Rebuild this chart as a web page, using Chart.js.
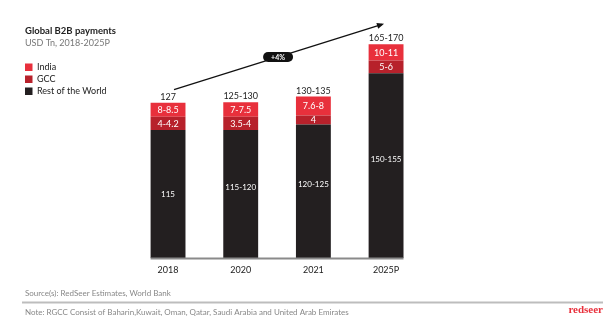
<!DOCTYPE html>
<html>
<head>
<meta charset="utf-8">
<script src="https://cdn.jsdelivr.net/npm/chart.js@4.4.1/dist/chart.umd.min.js"></script>
<style>
html,body{margin:0;padding:0;background:#fff;}
#wrap{width:611px;height:326px;position:relative;}
</style>
</head>
<body>
<div id="wrap"><canvas id="c" width="611" height="326"></canvas></div>
<script>
// ---- data ----
const categories = ['2018', '2020', '2021', '2025P'];
// segment heights as drawn in the picture (schematic scale)
const restValues  = [115, 115, 120, 166];
const gccValues   = [12, 12, 8, 11.5];
const indiaValues = [12.5, 13, 17, 14.5];
// labels printed on the chart
const restLabels  = ['115', '115-120', '120-125', '150-155'];
const gccLabels   = ['4-4.2', '3.5-4', '4', '5-6'];
const indiaLabels = ['8-8.5', '7-7.5', '7.6-8', '10-11'];
const totalLabels = ['127', '125-130', '130-135', '165-170'];
const growthLabel = '+4%';

const FONT = 'Lato, "Open Sans", sans-serif';
const C_INDIA = '#E8303C', C_GCC = '#B7212B', C_ROW = '#231F20';

const overlay = {
  id: 'overlay',
  afterDatasetsDraw(chart) {
    const ctx = chart.ctx;
    const xs = chart.scales.x, ys = chart.scales.y;
    const m0 = chart.getDatasetMeta(0), m1 = chart.getDatasetMeta(1), m2 = chart.getDatasetMeta(2);
    ctx.save();
    // axis line
    const b0 = m0.data[0], bl = m0.data[m0.data.length - 1];
    ctx.strokeStyle = '#8a8a8a'; ctx.lineWidth = 2;
    ctx.beginPath();
    ctx.moveTo(b0.x - b0.width / 2, ys.getPixelForValue(0) + 0.5);
    ctx.lineTo(bl.x + bl.width / 2, ys.getPixelForValue(0) + 0.5);
    ctx.stroke();
    // segment labels
    ctx.textAlign = 'center'; ctx.textBaseline = 'middle';
    ctx.fillStyle = '#fff';
    [[m0, restLabels], [m1, gccLabels], [m2, indiaLabels]].forEach(([m, labs], k) => {
      ctx.font = (k === 0 ? '8px ' : '9px ') + FONT;
      m.data.forEach((el, i) => {
        let cy = (el.y + el.base) / 2;
        if (k === 0 && i > 0) cy -= 7;
        ctx.fillText(labs[i], el.x, cy + 0.5);
      });
    });
    // totals
    ctx.fillStyle = '#222';
    ctx.font = '9px ' + FONT;
    m2.data.forEach((el, i) => ctx.fillText(totalLabels[i], el.x, el.y - 6));
    // category labels
    ctx.font = '9px ' + FONT;
    ctx.fillStyle = '#222';
    categories.forEach((c, i) => ctx.fillText(c, xs.getPixelForValue(i), ys.getPixelForValue(0) + 12));
    // growth arrow
    const s = m2.data[0], e = m2.data[3];
    const x1 = s.x + 6, y1 = s.y - 13, x2 = e.x - 4, y2 = e.y - 20;
    ctx.strokeStyle = '#111'; ctx.lineWidth = 1.3;
    ctx.beginPath(); ctx.moveTo(x1, y1); ctx.lineTo(x2, y2); ctx.stroke();
    const ang = Math.atan2(y2 - y1, x2 - x1);
    ctx.fillStyle = '#111';
    ctx.beginPath();
    ctx.moveTo(x2 + 2, y2 - 0.6);
    ctx.lineTo(x2 - 5 * Math.cos(ang) + 3 * Math.sin(ang), y2 - 5 * Math.sin(ang) - 3 * Math.cos(ang));
    ctx.lineTo(x2 - 5 * Math.cos(ang) - 3 * Math.sin(ang), y2 - 5 * Math.sin(ang) + 3 * Math.cos(ang));
    ctx.closePath(); ctx.fill();
    // pill
    const mx = (x1 + x2) / 2, my = (y1 + y2) / 2;
    const pw = 30, ph = 10;
    ctx.beginPath();
    ctx.roundRect(mx - pw / 2, my - ph / 2, pw, ph, 5);
    ctx.fill();
    ctx.fillStyle = '#fff';
    ctx.font = 'bold 7px ' + FONT;
    ctx.fillText(growthLabel, mx, my + 0.5);
    ctx.restore();
  }
};

const decor = {
  id: 'decor',
  afterDraw(chart) {
    const ctx = chart.ctx;
    ctx.save();
    ctx.textBaseline = 'middle'; ctx.textAlign = 'left';
    ctx.fillStyle = '#222';
    ctx.font = 'bold 9.5px ' + FONT;
    ctx.fillText('Global B2B payments', 25, 31);
    ctx.fillStyle = '#777';
    ctx.font = '9px ' + FONT;
    ctx.fillText('USD Tn, 2018-2025P', 25, 43);
    // legend
    const items = [['India', C_INDIA], ['GCC', C_GCC], ['Rest of the World', C_ROW]];
    items.forEach(([t, c], i) => {
      const y = 63.5 + i * 12;
      ctx.fillStyle = c; ctx.fillRect(25, y, 7.5, 7.5);
      ctx.fillStyle = '#222'; ctx.font = '9px ' + FONT;
      ctx.fillText(t, 37, y + 4);
    });
    // footer
    ctx.fillStyle = '#888';
    ctx.font = '8px ' + FONT;
    ctx.fillText('Source(s): RedSeer Estimates, World Bank', 25, 293);
    ctx.fillText('Note: RGCC Consist of Baharin,Kuwait, Oman, Qatar, Saudi Arabia and United Arab Emirates', 25, 312);
    ctx.fillStyle = '#bdbdbd';
    ctx.fillRect(22, 301.5, 581, 2);
    ctx.fillStyle = '#E8303C';
    ctx.font = 'bold 11px "Liberation Serif", serif';
    ctx.textAlign = 'right';
    ctx.fillText('redseer', 603, 310.5);
    ctx.restore();
  }
};

new Chart(document.getElementById('c'), {
  type: 'bar',
  data: {
    labels: categories,
    datasets: [
      { label: 'Rest of the World', data: restValues, backgroundColor: C_ROW },
      { label: 'GCC', data: gccValues, backgroundColor: C_GCC },
      { label: 'India', data: indiaValues, backgroundColor: C_INDIA }
    ]
  },
  options: {
    responsive: false,
    animation: false,
    devicePixelRatio: 1,
    layout: { padding: { left: 131.7, right: 188.6, top: 35.4, bottom: 68 } },
    datasets: { bar: { categoryPercentage: 1, barPercentage: 0.48, borderWidth: 0 } },
    scales: {
      x: { stacked: true, display: false },
      y: { stacked: true, display: false, min: 0, max: 200 }
    },
    plugins: { legend: { display: false }, tooltip: { enabled: false } }
  },
  plugins: [overlay, decor]
});
</script>
</body>
</html>
